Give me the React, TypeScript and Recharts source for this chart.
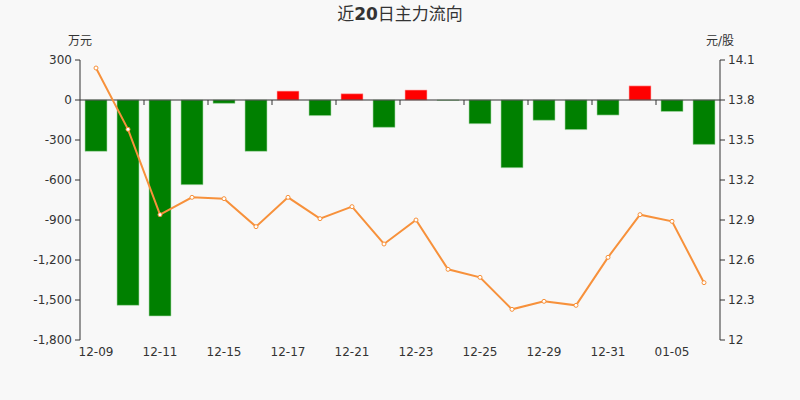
import { Bar, Cell, ComposedChart, Line, ReferenceLine, XAxis, YAxis } from 'recharts';

const DATES = [
  '12-09', '12-10', '12-11', '12-14', '12-15', '12-16', '12-17', '12-18', '12-21', '12-22',
  '12-23', '12-24', '12-25', '12-28', '12-29', '12-30', '12-31', '01-04', '01-05', '01-06',
];
// 主力净流入, 万元
const FLOW = [
  -385, -1540, -1620, -635, -25, -385, 67, -117, 47, -205,
  75, -3, -178, -508, -152, -222, -113, 106, -86, -333,
];
// 收盘价, 元/股
const PRICE = [
  14.04, 13.58, 12.94, 13.07, 13.06, 12.85, 13.07, 12.91, 13.0, 12.72,
  12.9, 12.53, 12.47, 12.23, 12.29, 12.26, 12.62, 12.94, 12.89, 12.43,
];
const FLOW_TICKS = [-1800, -1500, -1200, -900, -600, -300, 0, 300];
const PRICE_TICKS = [12, 12.3, 12.6, 12.9, 13.2, 13.5, 13.8, 14.1];

const WIDTH = 800;
const HEIGHT = 400;
const PLOT_TOP = 60;
const PLOT_BOTTOM = 340;
const AXIS_COLOR = '#333';
const TEXT_COLOR = '#333';
const FONT = '"DejaVu Sans", "Noto Sans CJK SC", sans-serif';
const UP = '#ff0000';
const DOWN = '#008000';
const LINE = '#f7913b';

const data = DATES.map((date, i) => ({ date, flow: FLOW[i], price: PRICE[i] }));

const flowMin = FLOW_TICKS[0];
const flowMax = FLOW_TICKS[FLOW_TICKS.length - 1];
const zeroY = PLOT_TOP + ((flowMax - 0) / (flowMax - flowMin)) * (PLOT_BOTTOM - PLOT_TOP);
const bandWidth = (720 - 80) / DATES.length;

function formatFlow(v: number): string {
  return v.toLocaleString('en-US');
}

function DateTick({ x, y, payload, index }: any) {
  return (
    <g>
      {index > 0 && (
        <line
          x1={x - bandWidth / 2}
          x2={x - bandWidth / 2}
          y1={zeroY}
          y2={zeroY + 5}
          stroke={AXIS_COLOR}
          strokeWidth={1}
        />
      )}
      <text x={x} y={y + 4} textAnchor="middle" dominantBaseline="central" fill={TEXT_COLOR} fontSize={12}>
        {payload.value}
      </text>
    </g>
  );
}

export default function App() {
  return (
    <div
      style={{
        position: 'absolute',
        left: 0,
        top: 0,
        width: WIDTH,
        height: HEIGHT,
        background: '#f8f8f8',
        fontFamily: FONT,
      }}
    >
      <div
        style={{
          position: 'absolute',
          top: 3,
          width: WIDTH,
          textAlign: 'center',
          fontSize: 17,
          color: TEXT_COLOR,
          lineHeight: '22px',
        }}
      >
        近<b>20</b>日主力流向
      </div>
      <div style={{ position: 'absolute', left: 68, top: 31, fontSize: 12, color: TEXT_COLOR }}>万元</div>
      <div style={{ position: 'absolute', left: 706, top: 31, fontSize: 12, color: TEXT_COLOR }}>元/股</div>
      <ComposedChart
        width={WIDTH}
        height={HEIGHT}
        data={data}
        margin={{ top: PLOT_TOP, right: 0, bottom: HEIGHT - PLOT_BOTTOM - 30, left: 0 }}
        barCategoryGap={5}
        style={{ fontFamily: FONT }}
      >
        <XAxis
          dataKey="date"
          interval={1}
          height={30}
          axisLine={false}
          tickLine={false}
          tick={<DateTick />}
        />
        <YAxis
          yAxisId="flow"
          width={80}
          domain={[flowMin, flowMax]}
          ticks={FLOW_TICKS}
          tickFormatter={formatFlow}
          axisLine={{ stroke: AXIS_COLOR }}
          tickLine={{ stroke: AXIS_COLOR }}
          tickSize={5}
          tickMargin={3}
          tick={{ fill: TEXT_COLOR, fontSize: 12 }}
          allowDataOverflow
        />
        <YAxis
          yAxisId="price"
          orientation="right"
          width={80}
          domain={[12, 14.1]}
          ticks={PRICE_TICKS}
          axisLine={{ stroke: AXIS_COLOR }}
          tickLine={{ stroke: AXIS_COLOR }}
          tickSize={5}
          tickMargin={3}
          tick={{ fill: TEXT_COLOR, fontSize: 12 }}
          allowDataOverflow
        />
        <Bar yAxisId="flow" dataKey="flow" isAnimationActive={false}>
          {data.map((d) => (
            <Cell key={d.date} fill={d.flow >= 0 ? UP : DOWN} stroke={d.flow >= 0 ? '#ffb3b3' : '#a8d8a8'} strokeWidth={0.6} />
          ))}
        </Bar>
        <ReferenceLine yAxisId="flow" y={0} stroke={AXIS_COLOR} strokeWidth={1} />
        <Line
          yAxisId="price"
          dataKey="price"
          stroke={LINE}
          strokeWidth={2}
          dot={{ r: 2, fill: '#fff', stroke: LINE, strokeWidth: 1 }}
          isAnimationActive={false}
        />
      </ComposedChart>
    </div>
  );
}
